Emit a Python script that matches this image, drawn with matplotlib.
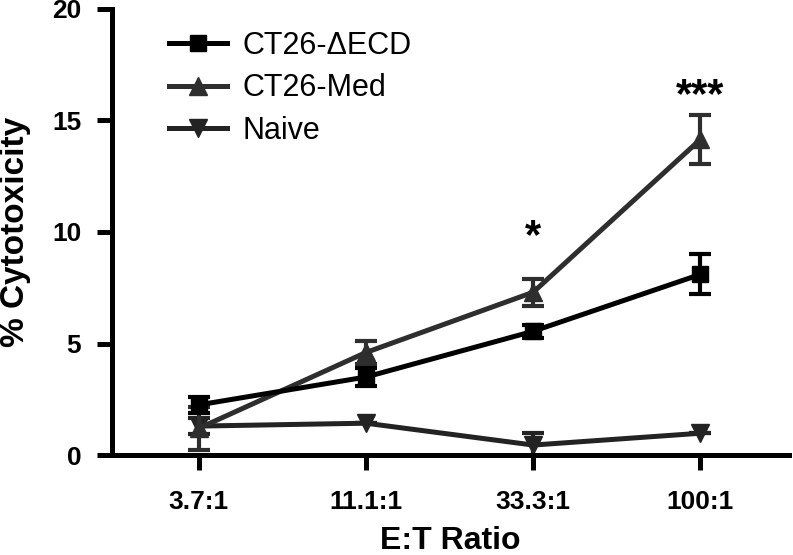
import matplotlib
matplotlib.use("Agg")
import matplotlib.pyplot as plt
import numpy as np

plt.rcParams['font.family'] = ['Liberation Sans', 'DejaVu Sans']

categories = ["3.7:1", "11.1:1", "33.3:1", "100:1"]
ecd_mean = [2.25, 3.5, 5.55, 8.1]
ecd_err = [0.35, 0.4, 0.3, 0.9]
med_mean = [1.2, 4.6, 7.3, 14.15]
med_err = [0.95, 0.5, 0.6, 1.1]
naive_mean = [1.3, 1.43, 0.45, 0.98]
naive_err = [0.35, 0.0, 0.55, 0.0]
annotations = {2: "*", 3: "***"}
annot_y = [0, 0, 9.75, 16.1]

fig = plt.figure(figsize=(7.93, 5.55), dpi=100)
ax = fig.add_axes([0.141, 0.180, 0.854, 0.804])
x = np.arange(len(categories))

series = [
    (naive_mean, naive_err, '#232323', 'v', 'Naive', 2),
    (med_mean, med_err, '#2e2e2e', '^', 'CT26-Med', 3),
    (ecd_mean, ecd_err, 'black', 's', 'CT26-ΔECD', 4),
]
handles = {}
for mean, err, col, mk, lab, z in series:
    ax.errorbar(x, mean, yerr=err, fmt='none', ecolor=col, elinewidth=3.0,
                capsize=8, capthick=3.0, zorder=z)
    ms = 11 if mk == 's' else 13
    ln, = ax.plot(x, mean, color=col, lw=3.6, marker=mk, markersize=ms, zorder=z, label=lab)
    handles[lab] = ln

for i, s in annotations.items():
    ax.text(x[i], annot_y[i], s, ha='center', va='center', fontsize=30, fontweight='bold')

ax.set_xlim(-0.52, 3.53)
ax.set_ylim(0, 20)
ax.set_yticks([0, 5, 10, 15, 20])
ax.set_yticklabels(['0', '5', '10', '15', '20'], fontsize=19, fontweight='bold')
ax.set_xticks(x)
ax.set_xticklabels(categories, fontsize=19, fontweight='bold')
ax.tick_params(axis='both', width=3.6, length=11, direction='out')
ax.tick_params(axis='x', pad=14)
ax.tick_params(axis='y', pad=11)
ax.spines['top'].set_visible(False)
ax.spines['right'].set_visible(False)
ax.spines['left'].set_linewidth(3.6)
ax.spines['bottom'].set_linewidth(3.6)
ax.set_ylabel('% Cytotoxicity', fontsize=24, fontweight='bold', labelpad=15)
ax.set_xlabel('E:T Ratio', fontsize=23, fontweight='bold', labelpad=9)

order = ['CT26-ΔECD', 'CT26-Med', 'Naive']
leg = ax.legend([handles[k] for k in order], order,
                loc='upper left', bbox_to_anchor=(0.085, 0.951), frameon=False,
                fontsize=22, handlelength=1.9, labelspacing=0.41, handletextpad=0.5,
                borderpad=0, borderaxespad=0)

fig.savefig('out.png', dpi=100)
